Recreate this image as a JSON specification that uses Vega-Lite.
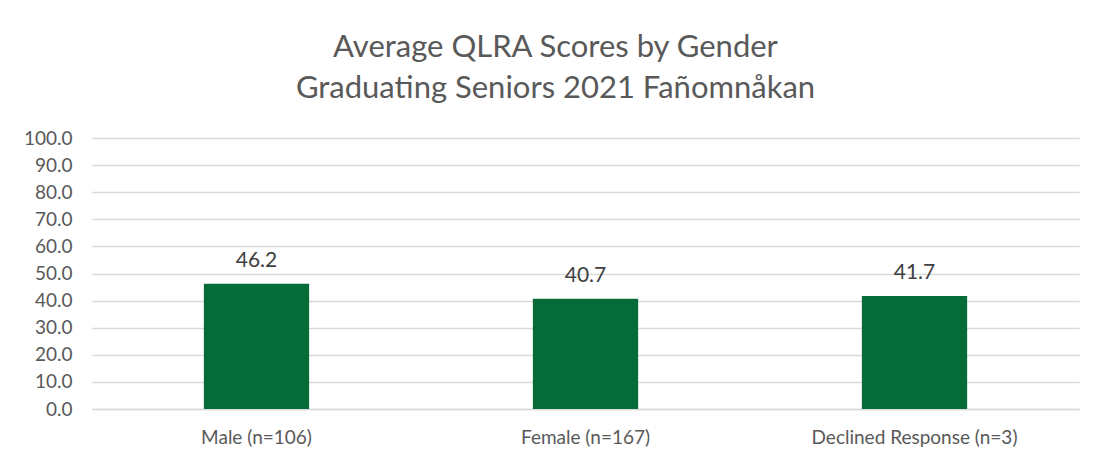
{
  "$schema": "https://vega.github.io/schema/vega-lite/v6.json",
  "width": 1093,
  "height": 463,
  "autosize": {"type": "fit", "contains": "padding"},
  "padding": {"left": 23, "right": 14, "top": 32, "bottom": 16},
  "background": "white",
  "title": {
    "text": ["Average QLRA Scores by Gender", "Graduating Seniors 2021 Fañomnåkan"],
    "font": "Lato",
    "fontSize": 31,
    "fontWeight": "normal",
    "color": "#595959",
    "lineHeight": 41,
    "anchor": "middle",
    "dx": -30,
    "offset": 24
  },
  "data": {
    "values": [
      {"group": "Male (n=106)", "score": 46.2},
      {"group": "Female (n=167)", "score": 40.7},
      {"group": "Declined Response (n=3)", "score": 41.7}
    ]
  },
  "config": {
    "view": {"stroke": null},
    "font": "Lato"
  },
  "encoding": {
    "x": {
      "field": "group",
      "type": "nominal",
      "sort": null,
      "scale": {"paddingInner": 0.68, "paddingOuter": 0.34},
      "axis": {
        "title": null,
        "labelAngle": 0,
        "labelFont": "Lato",
        "labelFontSize": 19,
        "labelColor": "#595959",
        "labelPadding": 19,
        "labelLimit": 0,
        "ticks": false,
        "domainColor": "#d9d9d9",
        "domainWidth": 1.5
      }
    },
    "y": {
      "field": "score",
      "type": "quantitative",
      "scale": {"domain": [0, 100], "nice": false},
      "axis": {
        "title": null,
        "values": [0, 10, 20, 30, 40, 50, 60, 70, 80, 90, 100],
        "format": ".1f",
        "labelFont": "Lato",
        "labelFontSize": 19,
        "labelColor": "#595959",
        "labelPadding": 20,
        "ticks": false,
        "domain": false,
        "gridColor": "#d9d9d9",
        "gridWidth": 1.5
      }
    }
  },
  "layer": [
    {"mark": {"type": "bar", "color": "#056b38"}},
    {
      "mark": {"type": "text", "dy": -23, "fontSize": 21, "color": "#404040", "font": "Lato"},
      "encoding": {"text": {"field": "score", "type": "quantitative", "format": ".1f"}}
    }
  ]
}
